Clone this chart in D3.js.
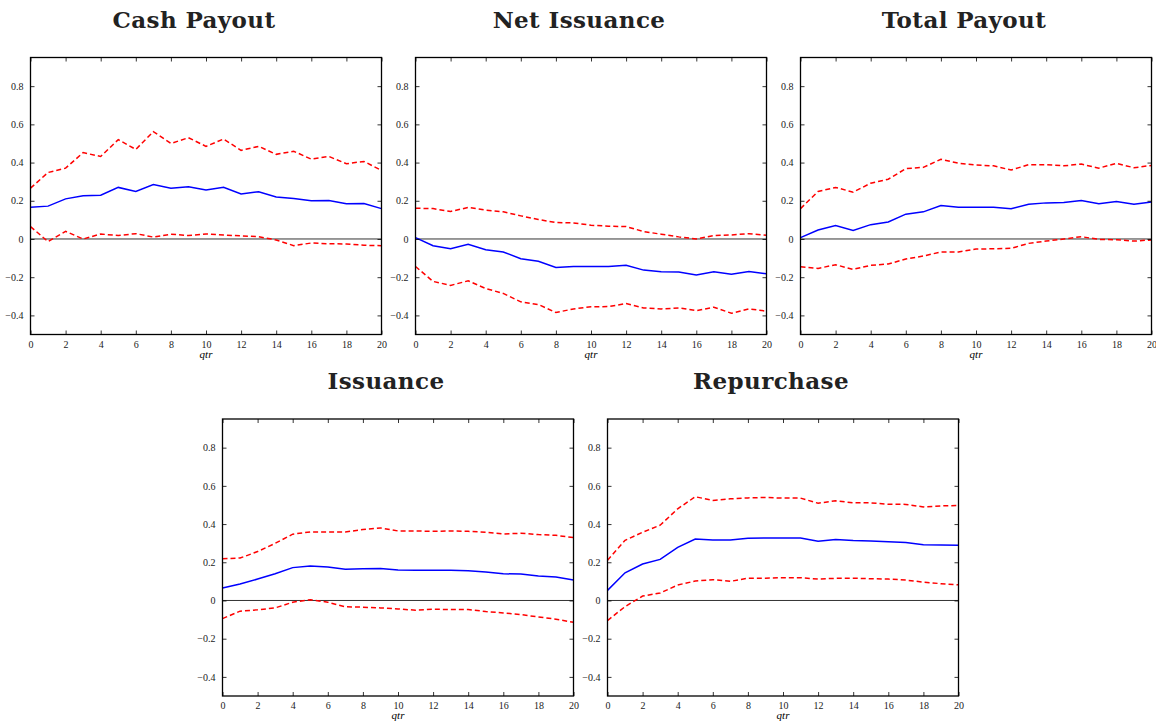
<!DOCTYPE html>
<html>
<head>
<meta charset="utf-8">
<script src="https://cdn.jsdelivr.net/npm/d3@7"></script>
<style>
  body { margin: 0; background: #fff; }
  svg { display: block; }
  .tick text { font-family: "Liberation Serif", "DejaVu Serif", serif; font-size: 10px; fill: #222; }
</style>
</head>
<body>
<script>
// quarters after the shock
var qtr = d3.range(0, 21);
var yTicks = [-0.4, -0.2, 0, 0.2, 0.4, 0.6, 0.8];
var xTicks = d3.range(0, 21, 2);

var titles = ["Cash Payout", "Net Issuance", "Total Payout", "Issuance", "Repurchase"];

// Cash Payout
var cashMid = [0.166, 0.172, 0.21, 0.226, 0.229, 0.27, 0.249, 0.285, 0.266, 0.273, 0.256, 0.271, 0.236, 0.247, 0.22, 0.212, 0.2, 0.201, 0.184, 0.186, 0.159];
var cashHi  = [0.266, 0.348, 0.371, 0.452, 0.432, 0.52, 0.469, 0.562, 0.50, 0.53, 0.485, 0.523, 0.464, 0.485, 0.443, 0.459, 0.418, 0.432, 0.394, 0.406, 0.359];
var cashLo  = [0.065, -0.014, 0.04, 0.0, 0.026, 0.018, 0.028, 0.01, 0.025, 0.018, 0.026, 0.021, 0.016, 0.012, -0.005, -0.035, -0.021, -0.025, -0.026, -0.033, -0.035];

// Net Issuance
var netMid = [0.007, -0.035, -0.051, -0.028, -0.056, -0.068, -0.103, -0.117, -0.149, -0.144, -0.144, -0.144, -0.137, -0.163, -0.172, -0.173, -0.189, -0.172, -0.184, -0.17, -0.182];
var netHi  = [0.161, 0.159, 0.144, 0.165, 0.151, 0.142, 0.121, 0.102, 0.086, 0.084, 0.072, 0.067, 0.065, 0.039, 0.025, 0.011, 0.0, 0.018, 0.021, 0.028, 0.019];
var netLo  = [-0.144, -0.222, -0.243, -0.219, -0.259, -0.285, -0.329, -0.343, -0.385, -0.366, -0.355, -0.354, -0.338, -0.361, -0.366, -0.361, -0.375, -0.357, -0.389, -0.366, -0.378];

// Total Payout
var totMid = [0.007, 0.047, 0.07, 0.044, 0.075, 0.089, 0.13, 0.142, 0.175, 0.166, 0.166, 0.166, 0.158, 0.182, 0.189, 0.191, 0.201, 0.184, 0.196, 0.182, 0.194];
var totHi  = [0.159, 0.249, 0.27, 0.245, 0.292, 0.313, 0.368, 0.375, 0.417, 0.397, 0.387, 0.383, 0.361, 0.389, 0.389, 0.383, 0.392, 0.371, 0.396, 0.373, 0.385];
var totLo  = [-0.145, -0.154, -0.135, -0.159, -0.138, -0.131, -0.105, -0.089, -0.068, -0.068, -0.053, -0.051, -0.049, -0.023, -0.011, 0.0, 0.012, -0.002, -0.004, -0.011, -0.005];

// Issuance
var issMid = [0.065, 0.086, 0.112, 0.14, 0.172, 0.18, 0.175, 0.163, 0.166, 0.168, 0.159, 0.158, 0.158, 0.158, 0.156, 0.149, 0.14, 0.138, 0.128, 0.123, 0.107];
var issHi  = [0.219, 0.222, 0.256, 0.299, 0.347, 0.359, 0.359, 0.359, 0.371, 0.38, 0.364, 0.364, 0.362, 0.364, 0.362, 0.357, 0.348, 0.352, 0.345, 0.341, 0.329];
var issLo  = [-0.095, -0.056, -0.049, -0.039, -0.009, 0.004, -0.009, -0.033, -0.035, -0.039, -0.044, -0.051, -0.046, -0.047, -0.047, -0.058, -0.065, -0.074, -0.086, -0.098, -0.114];

// Repurchase
var repMid = [0.053, 0.145, 0.191, 0.215, 0.278, 0.322, 0.317, 0.317, 0.326, 0.327, 0.327, 0.327, 0.31, 0.319, 0.314, 0.312, 0.307, 0.303, 0.292, 0.291, 0.289];
var repHi  = [0.21, 0.315, 0.357, 0.394, 0.48, 0.543, 0.524, 0.532, 0.537, 0.539, 0.536, 0.536, 0.509, 0.522, 0.511, 0.511, 0.504, 0.503, 0.49, 0.495, 0.497];
var repLo  = [-0.105, -0.032, 0.023, 0.039, 0.081, 0.102, 0.109, 0.1, 0.117, 0.117, 0.119, 0.119, 0.112, 0.116, 0.117, 0.114, 0.112, 0.107, 0.096, 0.088, 0.082];

var panels = [
    {title: titles[0], mid: cashMid, hi: cashHi, lo: cashLo, x: 30.5, y: 57.5},
    {title: titles[1], mid: netMid, hi: netHi, lo: netLo, x: 415.5, y: 57.5},
    {title: titles[2], mid: totMid, hi: totHi, lo: totLo, x: 800.5, y: 57.5},
    {title: titles[3], mid: issMid, hi: issHi, lo: issLo, x: 222.5, y: 419},
    {title: titles[4], mid: repMid, hi: repHi, lo: repLo, x: 607.5, y: 419}
];

var W = 351, H = 277;

var svg = d3.select("body").append("svg")
    .attr("width", 1156)
    .attr("height", 725);

var x = d3.scaleLinear().domain([0, 20]).range([0, W]);
var y = d3.scaleLinear().domain([-0.5, 0.95]).range([H, 0]);

function fmt(d) {
    if (d === 0) return "0";
    return d3.format(".1f")(d).replace("-", "\u2212");
}

var line = d3.line()
    .x(function(d, i) { return x(qtr[i]); })
    .y(function(d) { return y(d); });

panels.forEach(function(p, k) {
    var g = svg.append("g").attr("transform", "translate(" + p.x + "," + p.y + ")");

    g.append("clipPath").attr("id", "clip" + k)
        .append("rect").attr("width", W).attr("height", H);

    // zero line
    g.append("line")
        .attr("x1", 0).attr("x2", W)
        .attr("y1", y(0)).attr("y2", y(0))
        .attr("stroke", "#333").attr("stroke-width", 1);

    var plot = g.append("g").attr("clip-path", "url(#clip" + k + ")");

    [p.hi, p.lo].forEach(function(band) {
        plot.append("path")
            .datum(band)
            .attr("d", line)
            .attr("fill", "none")
            .attr("stroke", "#f00")
            .attr("stroke-width", 1.5)
            .attr("stroke-dasharray", "5,3");
    });

    plot.append("path")
        .datum(p.mid)
        .attr("d", line)
        .attr("fill", "none")
        .attr("stroke", "#00f")
        .attr("stroke-width", 1.5);

    // axes, ticks inward like matlab
    g.append("g").attr("transform", "translate(0," + H + ")")
        .call(d3.axisBottom(x).tickValues(xTicks).tickSize(-4).tickPadding(6).tickSizeOuter(0));
    g.append("g")
        .call(d3.axisTop(x).tickValues(xTicks).tickSize(-4).tickFormat("").tickSizeOuter(0));
    g.append("g")
        .call(d3.axisLeft(y).tickValues(yTicks).tickSize(-4).tickPadding(7).tickFormat(fmt).tickSizeOuter(0));
    g.append("g").attr("transform", "translate(" + W + ",0)")
        .call(d3.axisRight(y).tickValues(yTicks).tickSize(-4).tickFormat("").tickSizeOuter(0));

    g.selectAll(".domain").remove();
    g.selectAll(".tick line").attr("stroke", "#000").attr("stroke-width", 0.8);

    // box
    g.append("rect")
        .attr("width", W).attr("height", H)
        .attr("fill", "none").attr("stroke", "#000").attr("stroke-width", 1.3);

    // x label
    g.append("text")
        .attr("x", W / 2).attr("y", H + 23)
        .attr("text-anchor", "middle")
        .style("font-family", "'Liberation Serif', serif")
        .style("font-style", "italic")
        .style("font-size", "11px")
        .text("qtr");

    // title
    g.append("text")
        .attr("x", W / 2 - 12).attr("y", -30)
        .attr("text-anchor", "middle")
        .style("font-family", "'DejaVu Serif', serif")
        .style("font-weight", "bold")
        .style("font-size", "23px")
        .style("letter-spacing", "0.4px")
        .attr("fill", "#222")
        .text(p.title);
});
</script>
</body>
</html>
